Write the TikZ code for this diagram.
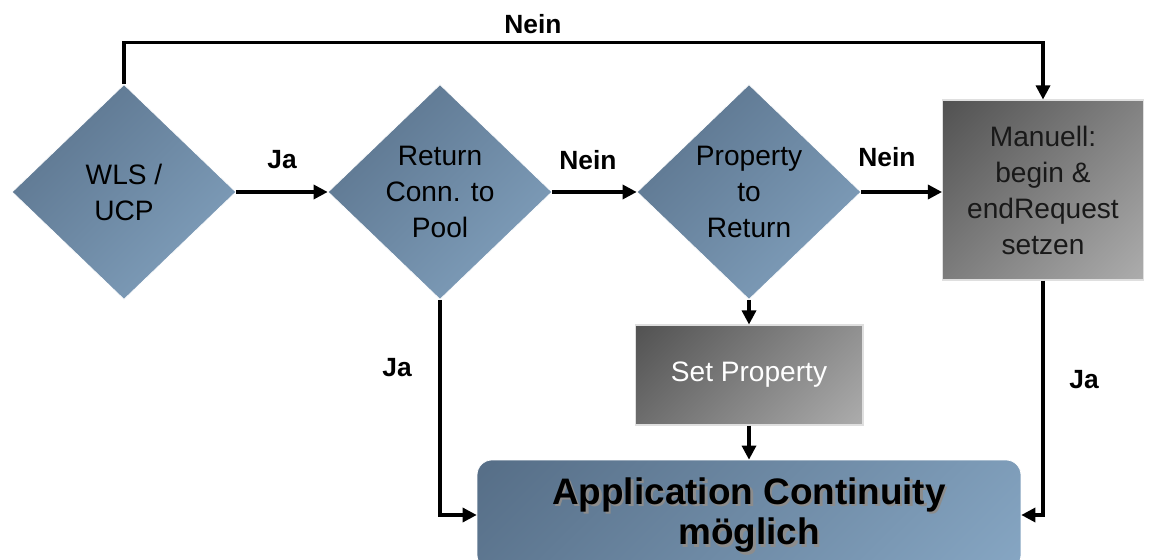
\documentclass[tikz,border=0pt]{standalone}
\usepackage{fontspec}
\setmainfont{Liberation Sans}
\usepackage{xcolor}
\usepackage{tikz}
\usetikzlibrary{shapes.geometric, arrows.meta, positioning, calc}

\definecolor{blueDark}{RGB}{86,110,135}
\definecolor{blueLight}{RGB}{134,166,195}
\definecolor{grayDark}{RGB}{82,82,82}
\definecolor{grayLight}{RGB}{172,172,172}

% diagonal shadings, dark at top left
\pgfdeclareverticalshading{blueDiag}{100bp}{color(0bp)=(blueLight); color(15bp)=(blueLight);
  color(85bp)=(blueDark); color(100bp)=(blueDark)}
\pgfdeclareverticalshading{grayDiag}{100bp}{color(0bp)=(grayLight); color(15bp)=(grayLight);
  color(85bp)=(grayDark); color(100bp)=(grayDark)}

\newcommand{\boxfont}{\fontsize{16}{20.5}\selectfont}
\newcommand{\labelfont}{\fontsize{15}{18}\selectfont\bfseries}
\newcommand{\apptext}{Application Continuity\\m\"oglich}

\begin{document}
\begin{tikzpicture}[x=0.02cm, y=-0.02cm,
    decision/.style={diamond, aspect=1.05, inner sep=0pt, minimum width=4.48cm,
      minimum height=4.3cm, shading=blueDiag, shading angle=45, draw=white,
      align=center, font=\boxfont},
    graybox/.style={rectangle, shading=grayDiag, shading angle=45, draw=gray!25,
      line width=0.6pt, align=center, font=\boxfont},
    goalbox/.style={rectangle, rounded corners=0.3cm, shading=blueDiag, shading angle=45,
      draw=white, align=center, font=\fontsize{21}{23}\selectfont\bfseries,
      path picture={\node[align=center, text=black!45, font=\fontsize{21}{23}\selectfont\bfseries]
        at ($(path picture bounding box.center)+(0.05cm,-0.05cm)$) {\apptext};}},
    arr/.style={-{Triangle[length=8pt, width=8pt]}, line width=1.8pt},
    lbl/.style={font=\labelfont}
  ]
    \useasboundingbox (0,0) rectangle (1149,560);
    \clip (0,0) rectangle (1149,560);

    % Decisions
    \node[decision] (wls) at (124,192) {WLS /\\UCP};
    \node[decision] (ret) at (440,192) {Return\\Conn. to\\Pool};
    \node[decision] (prop) at (749,192) {Property\\to\\Return};

    % Actions
    \node[graybox, text=black!90, minimum width=4.02cm, minimum height=3.6cm] (man) at (1043,190)
      {Manuell:\\begin \&\\endRequest\\setzen};
    \node[graybox, text=white, minimum width=4.56cm, minimum height=2cm] (setp) at (749,375)
      {Set Property};

    % Goal
    \node[goalbox, minimum width=10.88cm, minimum height=2.2cm] (app) at (749,515) {\apptext};

    % Connectors
    \draw[arr] (wls.east) -- (ret.west);
    \draw[arr] (ret.east) -- (prop.west);
    \draw[arr] (prop.east) -- (prop.east -| man.west);
    \draw[arr] (wls.north) -- ++(0,-42) coordinate (top) -| (man.north);
    \draw[arr] (ret.south) |- (app.west);
    \draw[arr] (prop.south) -- (setp.north);
    \draw[arr] (setp.south) -- (app.north);
    \draw[arr] (man.south) |- (app.east);

    % Labels
    \node[lbl] (l1) at (282,160) {Ja};
    \node[lbl] (l2) at (588,160) {Nein};
    \node[lbl] (l3) at (887,157) {Nein};
    \node[lbl] (l4) at (533,24) {Nein};
    \node[lbl] (l5) at (397,368) {Ja};
    \node[lbl] (l6) at (1084,380) {Ja};
\end{tikzpicture}
\end{document}
